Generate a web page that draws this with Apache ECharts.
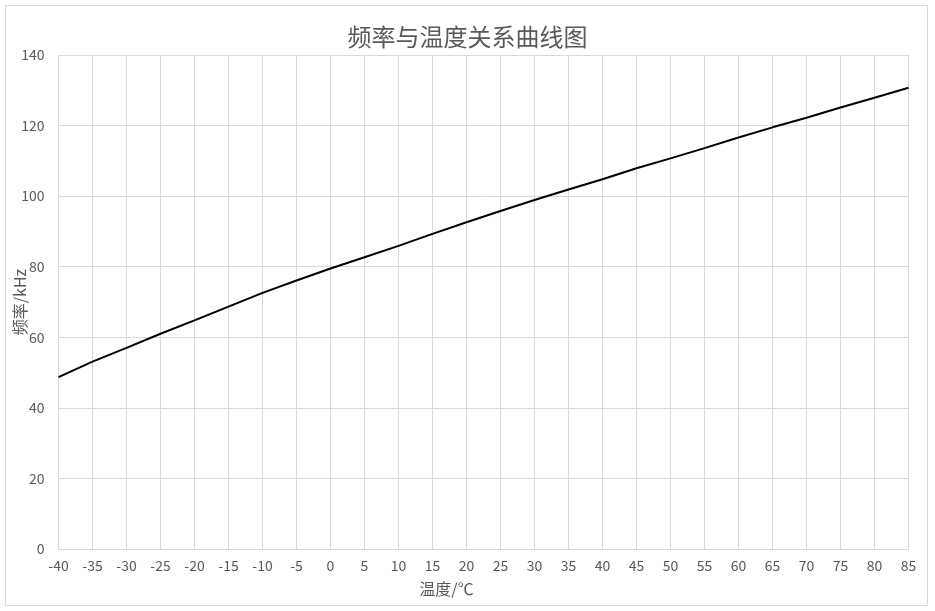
<!DOCTYPE html>
<html>
<head>
<meta charset="utf-8">
<script src="https://cdn.jsdelivr.net/npm/echarts@6/dist/echarts.min.js"></script>
<style>
html,body{margin:0;padding:0;background:#fff;}
#chart{width:935px;height:611px;}
</style>
</head>
<body>
<div id="chart"></div>
<script>
var titleText = '频率与温度关系曲线图';
var xName = '温度/℃';
var yName = '频率/kHz';
var temperatures = [-40,-35,-30,-25,-20,-15,-10,-5,0,5,10,15,20,25,30,35,40,45,50,55,60,65,70,75,80,85];
var frequencies = [48.7,53.1,57.0,61.0,64.8,68.7,72.6,76.1,79.5,82.7,85.9,89.3,92.6,95.8,98.9,101.9,104.8,107.9,110.7,113.6,116.6,119.5,122.2,125.1,127.9,130.7];
var yTicks = [0,20,40,60,80,100,120,140];

var seriesData = temperatures.map(function(t,i){return [t, frequencies[i]];});
var cjk = '"Noto Sans CJK SC", "Noto Sans", sans-serif';
var chart = echarts.init(document.getElementById('chart'), null, {renderer:'canvas'});
chart.setOption({
  backgroundColor:'#ffffff',
  animation:false,
  title:{
    text:titleText, left:'center', top:20,
    textStyle:{color:'#595959', fontSize:24, fontWeight:'normal', fontFamily:cjk}
  },
  graphic:[{
    type:'rect', shape:{x:5.5,y:5.5,width:922,height:600},
    style:{fill:'none', stroke:'#d9d9d9', lineWidth:1}, silent:true
  }],
  grid:{left:58.5, right:26.5, top:55, bottom:62, containLabel:false, outerBoundsMode:'none'},
  xAxis:{
    type:'value', min:-40, max:85, interval:5,
    name:xName, nameLocation:'middle', nameGap:32, nameMoveOverlap:false,
    nameTextStyle:{color:'#595959', fontSize:16, fontFamily:cjk, padding:[0,74,0,0]},
    axisLine:{show:true, lineStyle:{color:'#d9d9d9', width:1}},
    axisTick:{show:false},
    axisLabel:{color:'#595959', fontSize:14, fontFamily:cjk, margin:10, hideOverlap:false},
    splitLine:{show:true, lineStyle:{color:'#d9d9d9', width:1}}
  },
  yAxis:{
    type:'value', min:yTicks[0], max:yTicks[yTicks.length-1], interval:20,
    name:yName, nameLocation:'middle', nameGap:31, nameMoveOverlap:false,
    nameTextStyle:{color:'#595959', fontSize:16, fontFamily:cjk},
    axisLine:{show:false},
    axisTick:{show:false},
    axisLabel:{color:'#595959', fontSize:14, fontFamily:cjk, margin:14},
    splitLine:{show:true, lineStyle:{color:'#d9d9d9', width:1}}
  },
  series:[{
    type:'line', data:seriesData, showSymbol:false, symbol:'none',
    lineStyle:{color:'#000000', width:2}, smooth:false
  }]
});
</script>
</body>
</html>
